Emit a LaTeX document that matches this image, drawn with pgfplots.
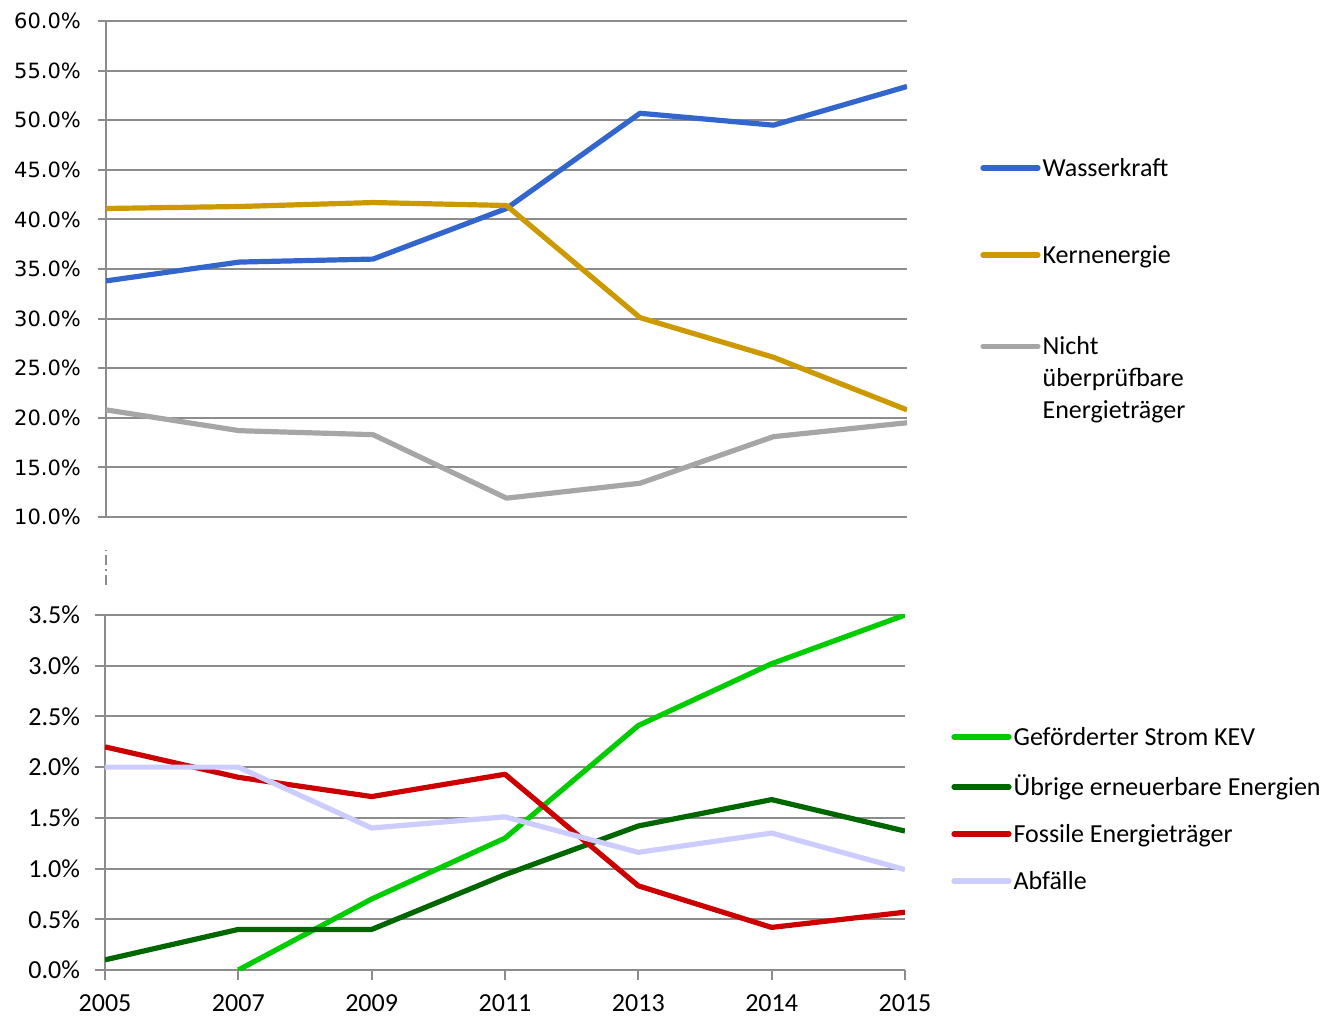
\documentclass[border=0pt]{standalone}
\usepackage{pgfplots}
\pgfplotsset{compat=1.18}
\usepackage{fontspec}
\setmainfont{Carlito}
\newfontfamily\tickfont{DejaVu Sans}

\definecolor{wasser}{HTML}{3366CC}
\definecolor{kern}{HTML}{CC9900}
\definecolor{nicht}{HTML}{A6A6A6}
\definecolor{kev}{HTML}{00CC00}
\definecolor{uebrige}{HTML}{006600}
\definecolor{fossil}{HTML}{CC0000}
\definecolor{abfall}{HTML}{CCCCFF}
\definecolor{gridgray}{HTML}{8C8C8C}

\pgfplotsset{
  panel/.style={
    scale only axis,
    xmin=0, xmax=6,
    axis y line*=left,
    axis line style={gridgray, line width=1pt},
    ymajorgrids,
    grid style={gridgray, line width=1pt},
    tick style={gridgray, line width=1pt},
    tick align=outside,
    major tick length=4pt,
    legend cell align=left,
    legend image code/.code={\draw[##1, line cap=round] (0pt,4.2pt) -- (27.5pt,4.2pt);},
    every axis plot/.append style={line width=2.6pt, line join=round, mark=none},
  },
}

\begin{document}
\begin{tikzpicture}
\useasboundingbox (-52.5pt,-24pt) rectangle (611.5pt,485pt);
% bottom panel
\begin{axis}[panel,
    at={(0pt,0pt)}, anchor=south west,
    width=400pt, height=177.5pt,
    ymin=0, ymax=3.5,
    ytick={0,0.5,...,3.5},
    yticklabel={\pgfmathprintnumber[fixed,fixed zerofill,precision=1]{\tick}\%},
    axis x line*=bottom,
    xtick={0,...,6},
    xticklabels={2005,2007,2009,2011,2013,2014,2015},
    major tick length=5pt,
    /pgf/number format/assume math mode=true,
    tick label style={font=\fontsize{13}{15}\selectfont},
    yticklabel style={xshift=-4pt},
    xticklabel style={yshift=-4pt},
    legend style={at={(1,1)}, anchor=north west, xshift=23pt, yshift=-55pt,
      draw=none, fill=none, inner sep=0pt, row sep=11pt,
      font=\fontsize{13}{15}\selectfont,
      nodes={inner xsep=1pt, inner ysep=1pt, anchor=base west}},
  ]
  \addplot[kev] coordinates {(1,0.00)(2,0.70)(3,1.30)(4,2.41)(5,3.02)(6,3.50)};
  \addlegendentry{Geförderter Strom KEV}
  \addplot[uebrige] coordinates {(0,0.10)(1,0.40)(2,0.40)(3,0.94)(4,1.42)(5,1.68)(6,1.37)};
  \addlegendentry{Übrige erneuerbare Energien}
  \addplot[fossil] coordinates {(0,2.20)(1,1.90)(2,1.71)(3,1.93)(4,0.83)(5,0.42)(6,0.57)};
  \addlegendentry{Fossile Energieträger}
  \addplot[abfall] coordinates {(0,2.00)(1,2.00)(2,1.40)(3,1.51)(4,1.16)(5,1.35)(6,0.99)};
  \addlegendentry{Abfälle}
\end{axis}

% axis break
\draw[gridgray, line width=1pt, dash pattern=on 5pt off 2pt on 1pt off 2pt] (0.5pt,192.5pt) -- (0.5pt,210pt);

% top panel
\begin{axis}[panel,
    at={(0.5pt,226.5pt)}, anchor=south west,
    width=400.5pt, height=248pt,
    ymin=10, ymax=60,
    ytick={10,15,...,60},
    yticklabel={\pgfmathprintnumber[fixed,fixed zerofill,precision=1]{\tick}\%},
    axis x line=none,
    /pgf/number format/assume math mode=true,
    yticklabel style={font=\tickfont\fontsize{10.5}{12}\selectfont, xshift=-5pt},
    legend style={at={(1,1)}, anchor=north west, xshift=36.5pt, yshift=-67.5pt,
      draw=none, fill=none, inner sep=0pt, row sep=31pt,
      font=\fontsize{13}{16}\selectfont,
      nodes={inner xsep=1pt, inner ysep=1pt, anchor=base west}},
  ]
  \addplot[wasser] coordinates {(0,33.8)(1,35.7)(2,36.0)(3,41.1)(4,50.7)(5,49.5)(6,53.4)};
  \addlegendentry{Wasserkraft}
  \addplot[kern] coordinates {(0,41.1)(1,41.3)(2,41.7)(3,41.4)(4,30.1)(5,26.1)(6,20.8)};
  \addlegendentry{Kernenergie}
  \addplot[nicht] coordinates {(0,20.8)(1,18.7)(2,18.3)(3,11.9)(4,13.4)(5,18.1)(6,19.5)};
  \addlegendentry{\begin{tabular}[t]{@{}l@{}}Nicht\\überprüfbare\\Energieträger\end{tabular}}
\end{axis}
\end{tikzpicture}
\end{document}
